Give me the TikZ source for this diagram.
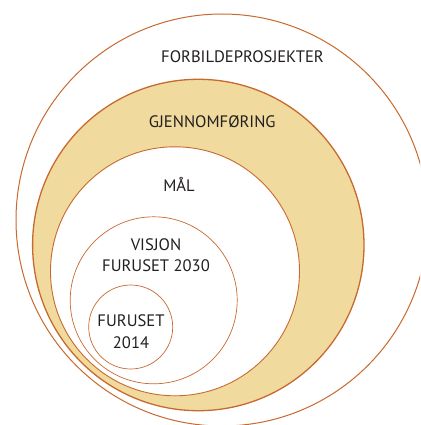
\documentclass[tikz,border=0pt]{standalone}
\usepackage{fontspec}
\setmainfont{PT Sans}
\definecolor{ring}{HTML}{C8692F}
\definecolor{goldfill}{HTML}{F0DA9E}
\definecolor{txt}{HTML}{231F20}
\tikzset{
  ringc/.style={circle, draw=ring, inner sep=0pt, fill=white},
  lbl/.style={text=txt, font=\fontsize{16.6}{21}\selectfont, anchor=base, inner sep=0pt, align=center}
}
\begin{document}
\begin{tikzpicture}[x=1pt,y=-1pt]
\useasboundingbox (0,0) rectangle (420,425);
\clip (0,0) rectangle (420,425);
\node[ringc, line width=1pt, minimum size=412pt] (outer) at (222,220) {};
\node[ringc, line width=1.3pt, fill=goldfill, minimum size=331.4pt] (gold) at (198.3,245) {};
\node[ringc, line width=0.9pt, minimum size=249pt] (mal) at (175,271.3) {};
\node[ringc, line width=0.7pt, minimum size=167pt] (visjon) at (153.7,300.3) {};
\node[ringc, line width=0.7pt, minimum size=84pt] (furuset) at (130.7,327) {};
\node[lbl] (t1) at (242.5,62.5) {FORBILDEPROSJEKTER};
\node[lbl] (t2) at (212.3,127) {GJENNOMFØRING};
\node[lbl] (t3) at (179,191.7) {MÅL};
\node[lbl] (t4) at (156,250.7) {VISJON};
\node[lbl] (t5) at (156,271.7) {FURUSET 2030};
\node[lbl] (t6) at (131,326.7) {FURUSET};
\node[lbl] (t7) at (131,348.3) {2014};
\end{tikzpicture}
\end{document}
